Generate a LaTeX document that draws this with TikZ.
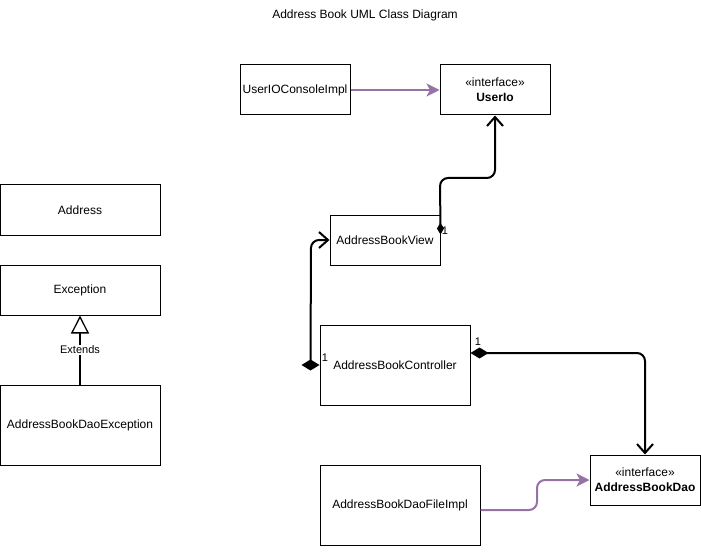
\documentclass[tikz,border=0pt]{standalone}
\usepackage{fontspec}
\setmainfont{Liberation Sans}
\usetikzlibrary{arrows.meta}
\definecolor{purp}{HTML}{9673A6}
\begin{document}
\begin{tikzpicture}[x=1pt,y=-1pt,
 font=\fontsize{12}{15}\selectfont,
 cls/.style={draw, line width=1pt, fill=white, align=center, inner sep=0pt},
 conn/.style={line width=2pt, rounded corners=8pt},
 impl/.style={conn, draw=purp, -{Stealth[length=13pt,width=13pt,inset=3.5pt,fill=purp]}},
 barb/.tip={Straight Barb[length=9pt,width=16pt]},
 assoc/.style={conn, -barb},
 mult/.style={font=\fontsize{11}{13}\selectfont, inner sep=0pt}
]
\fill[white] (0,0) rectangle (701,556);
\useasboundingbox (0,0) rectangle (701,556);

\node (title) at (365,15) {Address Book UML Class Diagram};

\node[cls, minimum width=110pt, minimum height=50pt] (uioc) at (295,90) {UserIOConsoleImpl};
\node[cls, minimum width=110pt, minimum height=50pt] (uio) at (495,90) {«interface»\\\textbf{UserIo}};
\node[cls, minimum width=160pt, minimum height=50pt] (addr) at (80,210) {Address};
\node[cls, minimum width=160pt, minimum height=50pt] (exc) at (80,290) {Exception};
\node[cls, minimum width=160pt, minimum height=80pt] (abde) at (80,425) {AddressBookDaoException};
\node[cls, minimum width=110pt, minimum height=50pt] (view) at (385,240) {AddressBookView};
\node[cls, minimum width=150pt, minimum height=80pt] (ctrl) at (395,365) {AddressBookController};
\node[cls, minimum width=160pt, minimum height=80pt] (dfi) at (400,505) {AddressBookDaoFileImpl};
\node[cls, minimum width=110pt, minimum height=50pt] (dao) at (645,480) {«interface»\\\textbf{AddressBookDao}};

% realizations
\draw[impl] (uioc.east) -- (uio.west);
\draw[impl] ([yshift=-5pt]dfi.east) -- (537,510) -- (537,480) -- (dao.west);

% view -> UserIo
\draw[conn, {Diamond[length=12pt,width=7pt]}-barb]
  ([yshift=-20pt]view.north east) -- (440,178) -- (495,178) -- (uio.south);
\node[mult] (m1) at (445,231) {1};

% controller -> view
\coordinate (cd) at ([xshift=-9pt]ctrl.west);
\fill (ctrl.west) -- ++(-9,-5.5) -- ++(-9,5.5) -- ++(9,5.5) -- cycle;
\draw[assoc] (cd) -- (311,240) -- (view.west);
\node[mult] (m2) at (325,358) {1};

% controller -> dao
\draw[conn, {Diamond[length=18pt,width=11pt]}-barb]
  ([yshift=12pt]ctrl.east) -- (645,353) -- (dao.north);
\node[mult] (m3) at (478,342) {1};

% extends
\draw[line width=1.8pt, -{Triangle[open,length=18pt,width=18pt,fill=white,line width=1.3pt]}]
  (abde.north) -- (exc.south)
  node[midway, fill=white, inner sep=1pt, font=\fontsize{11}{13}\selectfont] (ext) {Extends};
\end{tikzpicture}
\end{document}
